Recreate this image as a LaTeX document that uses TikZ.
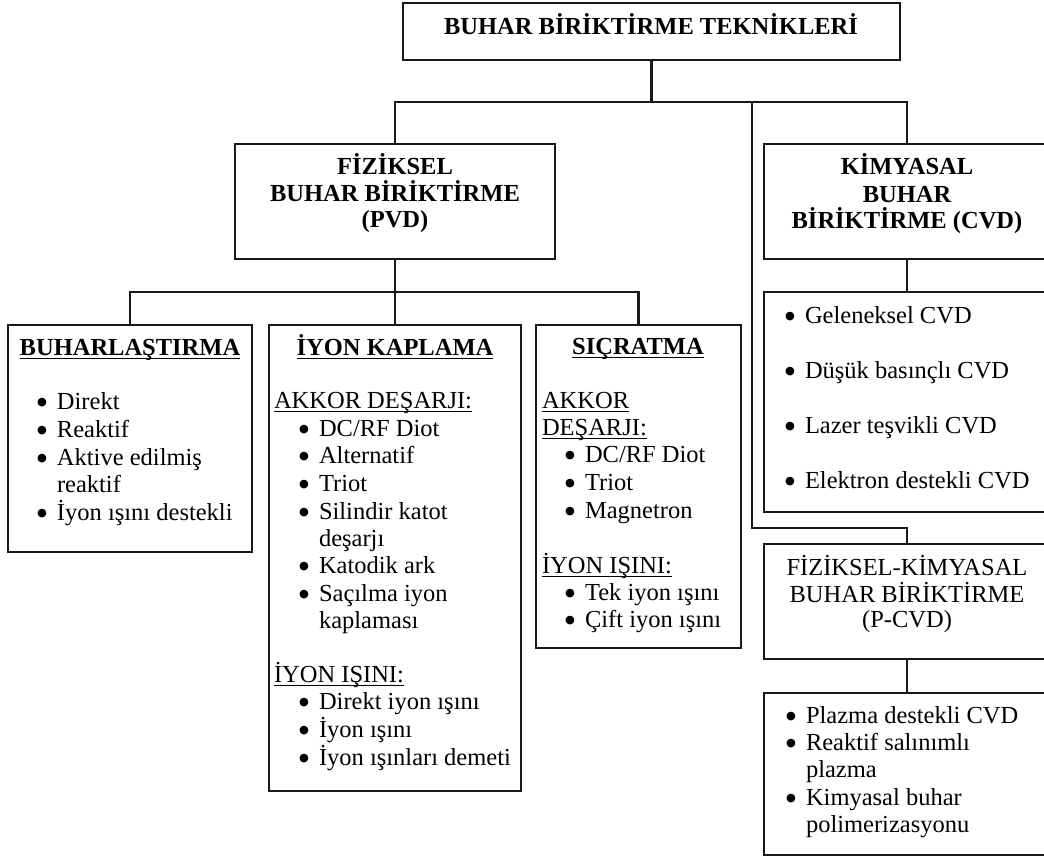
\documentclass[tikz,border=0pt]{standalone}
\usepackage{fontspec}
\setmainfont{Liberation Serif}
\newfontfamily\symfont{DejaVu Sans}
% underline drawn at a fixed depth below the baseline
\newsavebox{\ulinebox}
\newcommand{\ulin}[1]{\sbox{\ulinebox}{#1}\rlap{\usebox{\ulinebox}}\rule[-3.9pt]{\wd\ulinebox}{1.3pt}}
% list bullet: a small filled circle, raised to mid x-height
\newcommand{\itemdot}{\makebox[20pt][l]{\raisebox{3.6pt}{\scalebox{0.46}{\symfont ●}}}}
\tikzset{
  box/.style={draw=black!90, line width=2.2pt, inner sep=0pt, outer sep=0pt, anchor=north west},
  wire/.style={draw=black!90, line width=2.2pt},
  ln/.style={inner sep=0pt, outer sep=0pt, anchor=base west, text height=18pt, text depth=5pt,
             font=\fontsize{24.5}{27.6}\selectfont},
  ctr/.style={ln, anchor=base},
  hd/.style={ln, anchor=base, font=\fontsize{24.5}{27.6}\selectfont\bfseries}
}
\begin{document}
\begin{tikzpicture}[x=1pt,y=-1pt]
\useasboundingbox (0,0) rectangle (1044,856);
\clip (0,0) rectangle (1044,856);
\fill[white] (0,0) rectangle (1044,856);

% ---- boxes ----
\node[box, minimum width=497pt, minimum height=57pt]  (top)  at (403,3) {};
\node[box, minimum width=320pt, minimum height=115pt] (pvd)  at (235,144) {};
\node[box, minimum width=286pt, minimum height=115pt] (cvd)  at (764,144) {};
\node[box, minimum width=244pt, minimum height=227pt] (buh)  at (8,325) {};
\node[box, minimum width=252pt, minimum height=466pt] (iyon) at (269,325) {};
\node[box, minimum width=205pt, minimum height=323pt] (sic)  at (536,325) {};
\node[box, minimum width=286pt, minimum height=220pt] (cvdl) at (764,292) {};
\node[box, minimum width=286pt, minimum height=115pt] (pcvd) at (764,544) {};
\node[box, minimum width=286pt, minimum height=162pt] (pcvdl) at (764,693) {};

% ---- connectors ----
\coordinate (j1) at (top.south |- 0,102);
\coordinate (j2) at (752,102);
\coordinate (j3) at (752,528);
\coordinate (j4) at (pvd.south |- 0,292);
\draw[wire] (top.south) -- (j1);
\draw[wire] (pvd.north) |- (j1) -| (cvd.north);
\draw[wire] (j2) -- (j3) -| (pcvd.north);
\draw[wire] (cvd.south) -- (cvdl.north);
\draw[wire] (pcvd.south) -- (pcvdl.north);
\draw[wire] (pvd.south) -- (j4);
\draw[wire] (buh.north) |- (j4) -| (sic.north);
\draw[wire] (iyon.north) -- (j4);

% ---- top title ----
\node[hd] (t0) at (651,35) {BUHAR BİRİKTİRME TEKNİKLERİ};

% ---- PVD ----
\node[hd] (p1) at (395,175) {FİZİKSEL};
\node[hd] (p2) at (395,201) {BUHAR BİRİKTİRME};
\node[hd] (p3) at (395,227) {(PVD)};

% ---- CVD ----
\node[hd] (c1) at (907,174) {KİMYASAL};
\node[hd] (c2) at (907,202) {BUHAR};
\node[hd] (c3) at (907,228) {BİRİKTİRME (CVD)};

% ---- Buharlaştırma ----
\node[hd] (b0) at (130,355) {\ulin{BUHARLAŞTIRMA}};
\node[ln] (b1) at (37,409) {\itemdot Direkt};
\node[ln] (b2) at (37,437) {\itemdot Reaktif};
\node[ln] (b3) at (37,465) {\itemdot Aktive edilmiş};
\node[ln] (b4) at (57,492) {reaktif};
\node[ln] (b5) at (37,520) {\itemdot İyon ışını destekli};

% ---- İyon kaplama ----
\node[hd] (i0) at (395,355) {\ulin{İYON KAPLAMA}};
\node[ln] (i1) at (274,408) {\ulin{AKKOR DEŞARJI:}};
\node[ln] (i2) at (299,436) {\itemdot DC/RF Diot};
\node[ln] (i3) at (299,463) {\itemdot Alternatif};
\node[ln] (i4) at (299,491) {\itemdot Triot};
\node[ln] (i5) at (299,519) {\itemdot Silindir katot};
\node[ln] (i6) at (319,546) {deşarjı};
\node[ln] (i7) at (299,573) {\itemdot Katodik ark};
\node[ln] (i8) at (299,601) {\itemdot Saçılma iyon};
\node[ln] (i9) at (319,628) {kaplaması};
\node[ln] (i10) at (274,682) {\ulin{İYON IŞINI:}};
\node[ln] (i11) at (299,709) {\itemdot Direkt iyon ışını};
\node[ln] (i12) at (299,737) {\itemdot İyon ışını};
\node[ln] (i13) at (299,765) {\itemdot İyon ışınları demeti};

% ---- Sıçratma ----
\node[hd] (s0) at (638,354) {\ulin{SIÇRATMA}};
\node[ln] (s1) at (542,408) {\ulin{AKKOR}};
\node[ln] (s2) at (542,435) {\ulin{DEŞARJI:}};
\node[ln] (s3) at (565,462) {\itemdot DC/RF Diot};
\node[ln] (s4) at (565,490) {\itemdot Triot};
\node[ln] (s5) at (565,518) {\itemdot Magnetron};
\node[ln] (s6) at (542,573) {\ulin{İYON IŞINI:}};
\node[ln] (s7) at (565,600) {\itemdot Tek iyon ışını};
\node[ln] (s8) at (565,627) {\itemdot Çift iyon ışını};

% ---- CVD list ----
\node[ln] (v1) at (785,323) {\itemdot Geleneksel CVD};
\node[ln] (v2) at (785,378) {\itemdot Düşük basınçlı CVD};
\node[ln] (v3) at (785,433) {\itemdot Lazer teşvikli CVD};
\node[ln] (v4) at (785,488) {\itemdot Elektron destekli CVD};

% ---- P-CVD ----
\node[ctr] (q1) at (907,575) {FİZİKSEL-KİMYASAL};
\node[ctr] (q2) at (907,602) {BUHAR BİRİKTİRME};
\node[ctr] (q3) at (907,627) {(P-CVD)};

% ---- P-CVD list ----
\node[ln] (r1) at (786,723) {\itemdot Plazma destekli CVD};
\node[ln] (r2) at (786,750) {\itemdot Reaktif salınımlı};
\node[ln] (r3) at (806,777) {plazma};
\node[ln] (r4) at (786,805) {\itemdot Kimyasal buhar};
\node[ln] (r5) at (806,832) {polimerizasyonu};
\end{tikzpicture}
\end{document}
